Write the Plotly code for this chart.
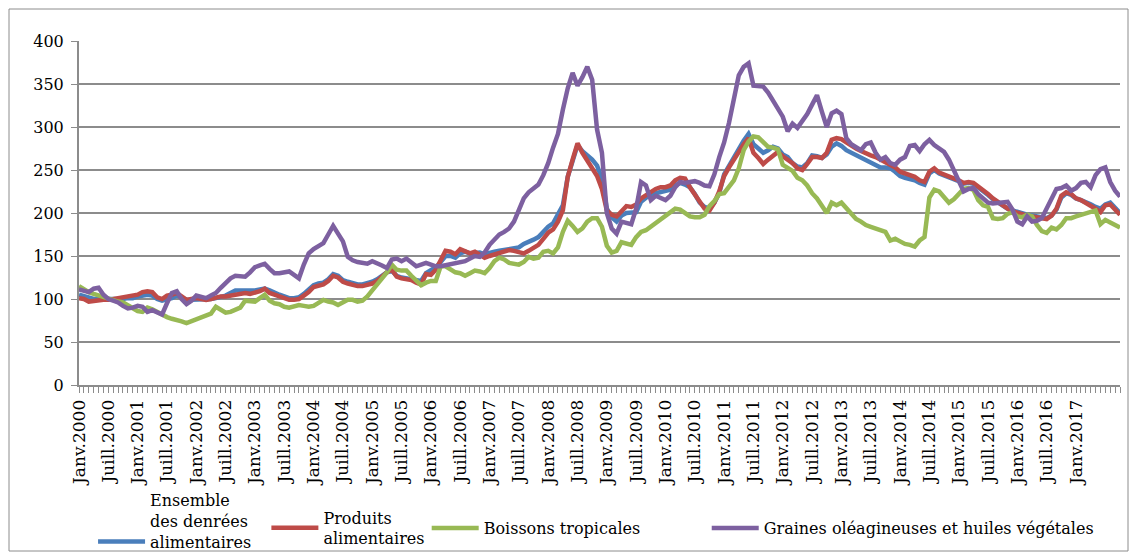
import plotly.graph_objects as go

# Monthly index values, Jan 2000 - Oct 2017 (base 2000 = 100)
ensemble = [
105,103,101,100,100,100,99,99,100,100,101,101,
103,104,105,104,100,98,99,101,104,101,99,99,
99,99,99,100,101,102,104,107,110,110,110,109,
110,111,112,110,107,105,103,101,101,102,106,111,
116,118,119,123,129,127,122,120,118,117,117,118,
120,123,127,131,133,127,125,124,123,122,121,130,
133,137,143,150,150,148,153,155,153,153,154,152,
154,155,156,157,158,158,160,164,166,169,172,178,
184,188,198,209,242,262,279,272,267,262,255,240,
205,195,190,197,200,200,201,213,218,222,223,224,
225,227,232,235,233,230,222,212,207,205,212,223,
245,255,265,275,284,292,280,275,270,273,277,275,
268,265,258,254,253,258,267,266,264,268,277,281,
278,273,270,267,264,261,258,255,253,253,252,248,
243,241,240,238,235,233,246,250,246,244,242,240,
237,234,235,234,230,226,221,216,212,208,205,203,
201,199,198,197,196,194,194,197,204,218,223,221,
217,215,213,210,207,205,210,212,206,200]

produits_alim = [
101,100,97,98,99,99,99,100,101,102,103,103,
105,108,109,108,102,100,104,105,107,103,99,100,
101,100,99,100,102,103,103,104,105,107,107,106,
107,109,112,107,105,103,101,99,99,100,104,108,
114,116,117,121,127,125,120,118,116,115,115,116,
118,121,126,131,134,126,124,123,122,119,117,129,
128,134,146,156,155,152,158,155,153,155,152,148,
150,152,154,155,157,156,154,153,156,160,163,170,
177,181,190,203,242,262,281,270,262,252,243,228,
203,198,196,203,208,207,210,217,221,224,228,230,
230,232,238,241,240,230,222,213,205,203,212,225,
243,253,262,273,280,287,270,264,257,262,267,271,
266,262,258,252,250,257,265,265,264,270,285,287,
286,282,278,275,272,269,267,265,262,259,257,253,
248,246,245,242,238,236,248,252,247,245,243,241,
238,235,236,235,231,227,222,217,213,208,205,202,
200,198,197,196,195,193,193,197,205,220,224,222,
217,215,212,209,205,201,209,210,203,198]

boissons = [
115,111,108,106,104,102,101,99,97,96,93,89,
86,85,90,88,85,81,79,77,76,74,72,74,
76,78,80,83,91,88,84,85,88,90,98,97,
97,101,105,98,95,94,91,90,91,93,92,91,
92,96,99,97,96,93,96,99,99,97,98,103,
110,117,122,131,140,134,133,133,127,121,116,119,
121,121,138,138,134,131,130,127,130,133,132,130,
136,144,148,146,142,141,140,143,149,147,148,155,
156,153,160,178,191,185,178,182,190,194,194,184,
162,154,156,166,164,163,172,178,180,184,188,192,
196,200,205,204,200,196,195,195,198,208,214,222,
223,230,238,252,273,283,289,288,282,277,276,274,
256,252,249,241,238,232,223,217,208,200,212,209,
212,206,200,193,190,186,184,182,180,178,168,170,
167,164,163,161,168,172,218,227,225,218,212,216,
222,228,229,227,215,209,207,194,193,194,199,201,
196,195,198,196,186,179,177,183,181,186,194,194,
196,198,200,202,203,187,192,189,186,183]

graines_huiles = [
111,110,108,112,113,105,100,98,96,92,89,90,
92,91,85,87,85,82,95,107,109,100,94,98,
104,102,101,104,107,113,119,124,127,126,126,131,
137,139,141,135,130,130,131,132,128,124,140,153,
158,162,165,175,185,176,167,149,145,143,142,141,
144,142,139,136,146,147,144,147,143,138,140,142,
140,138,138,139,140,141,142,144,147,150,149,154,
163,170,175,178,182,190,205,217,224,229,233,244,
258,276,292,320,345,363,348,358,370,355,297,270,
200,182,176,190,189,187,205,236,232,215,220,217,
215,220,230,236,235,236,237,235,232,231,245,265,
282,305,335,360,370,374,348,347,347,340,330,322,
312,295,304,299,307,315,326,337,318,300,316,319,
315,287,280,276,273,280,282,270,262,265,258,256,
262,265,278,279,272,280,285,279,275,271,262,250,
235,225,228,229,222,217,212,211,212,212,213,204,
190,187,196,190,191,194,206,218,228,229,232,226,
229,235,236,230,244,251,253,236,226,219]

tick_labels = [
"Janv.2000","Juill.2000","Janv.2001","Juill.2001","Janv.2002","Juill.2002",
"Janv.2003","Juill.2003","Janv.2004","Juill.2004","Janv.2005","Juill.2005",
"Janv.2006","Juill.2006","Janv.2007","Juill.2007","Janv.2008","Juill.2008",
"Janv.2009","Juill.2009","Janv.2010","Juill.2010","Janv.2011","Juill.2011",
"Janv.2012","Juill.2012","Janv.2013","Juill.2013","Janv.2014","Juill.2014",
"Janv.2015","Juill.2015","Janv.2016","Juill.2016","Janv.2017"]

series_names = ["Ensemble<br>des denrées<br>alimentaires", "Produits<br>alimentaires",
                "Boissons tropicales", "Graines oléagineuses et huiles végétales"]
series_values = [ensemble, produits_alim, boissons, graines_huiles]
colors = ["#4A7EBB", "#BE4B48", "#98B954", "#7D60A0"]
legend_ids = ["legend", "legend2", "legend3", "legend4"]
legend_x = [0.0135, 0.180, 0.334, 0.603]

n = len(ensemble)
months = list(range(n))
FONT = "DejaVu Serif, Liberation Serif, serif"
GRAY = "#8C8C8C"

# figure sits inside the page body's default 8px margin
W, H = 1121, 544
L, T = 71, 33
PW, PH = 1041, 344

fig = go.Figure()
for name, vals, col, lid in zip(series_names, series_values, colors, legend_ids):
    fig.add_trace(go.Scatter(x=months, y=vals, mode="lines", name=name,
                             line=dict(color=col, width=4.5), legend=lid))

leg_font = dict(family=FONT, size=16, color="black")
leg_common = dict(orientation="h", xanchor="left", font=leg_font,
                  bgcolor="rgba(0,0,0,0)", itemwidth=47)
y_single = (T + PH - 520) / PH
fig.update_layout(
    legend=dict(x=legend_x[0], y=(T + PH - 551) / PH, yanchor="bottom",
                valign="bottom", **leg_common),
    legend2=dict(x=legend_x[1], y=y_single, yanchor="middle", **leg_common),
    legend3=dict(x=legend_x[2], y=y_single, yanchor="middle", **leg_common),
    legend4=dict(x=legend_x[3], y=y_single, yanchor="middle", **leg_common),
)

fig.update_layout(
    width=W, height=H,
    margin=dict(l=L, r=W - L - PW, t=T, b=H - T - PH, autoexpand=False),
    paper_bgcolor="white", plot_bgcolor="white",
    font=dict(family=FONT, size=16, color="black"),
    showlegend=True,
    xaxis=dict(range=[0, n - 1], tickmode="array",
               tickvals=[6 * k for k in range(len(tick_labels))], ticktext=tick_labels,
               tickangle=-90, ticks="outside", ticklen=6, tickcolor=GRAY,
               minor=dict(tickvals=months, ticks="outside", ticklen=6, tickcolor=GRAY),
               showgrid=False, showline=True, linecolor=GRAY, linewidth=2,
               zeroline=False, automargin=False,
               tickfont=dict(family=FONT, size=17, color="black")),
    yaxis=dict(range=[0, 400], dtick=50, tick0=0, showgrid=True, gridcolor=GRAY,
               gridwidth=1.5, showline=True, linecolor=GRAY, linewidth=2,
               ticks="outside", ticklen=6, tickcolor=GRAY, zeroline=False,
               automargin=False, ticklabelstandoff=4,
               tickfont=dict(family=FONT, size=16, color="black")),
)

# outer chart border along the figure edges
fig.add_shape(type="rect", xref="paper", yref="paper",
              x0=(1 - L) / PW, x1=(W - 1 - L) / PW,
              y0=(T + PH - (H - 1)) / PH, y1=(T + PH - 1) / PH,
              line=dict(color=GRAY, width=1), fillcolor="rgba(0,0,0,0)", layer="below")

fig.write_html("out.html")
